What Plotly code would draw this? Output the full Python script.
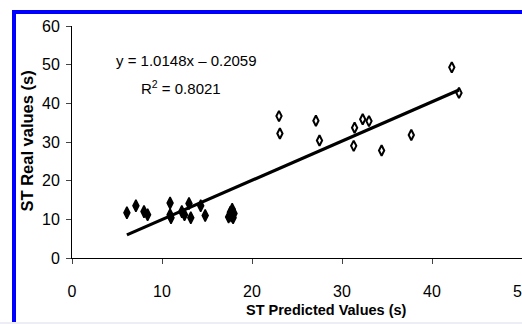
import plotly.graph_objects as go

# Data
filled_x = [6.1, 7.1, 8.0, 8.4, 10.9, 10.9, 11.0, 12.2, 12.5, 13.0, 13.2, 14.3, 14.8, 17.4, 17.6, 17.8, 17.9, 18.0, 17.7]
filled_y = [11.7, 13.5, 12.0, 11.2, 14.2, 11.2, 10.4, 12.0, 11.2, 14.1, 10.4, 13.5, 11.0, 10.6, 11.8, 12.6, 10.4, 11.5, 10.9]
open_x = [23.0, 23.1, 27.1, 27.5, 31.4, 31.3, 32.3, 33.0, 34.4, 37.7, 42.2, 43.0]
open_y = [36.7, 32.2, 35.5, 30.4, 33.7, 29.0, 35.9, 35.4, 27.8, 31.8, 49.3, 42.7]
slope = 1.0148
intercept = -0.2059
eq_text = "y = 1.0148x \u2013 0.2059"
r2_text = "R<sup>2</sup> = 0.8021"
x_ticks = [0, 10, 20, 30, 40, 50]
y_ticks = [0, 10, 20, 30, 40, 50, 60]

all_x = filled_x + open_x
tx = [min(all_x), max(all_x)]
ty = [slope * v + intercept for v in tx]

FONT = "Arial, Liberation Sans, sans-serif"

fig = go.Figure()
fig.add_trace(go.Scatter(x=tx, y=ty, mode="lines", line=dict(color="black", width=3.2),
                         hoverinfo="skip"))
fig.add_trace(go.Scatter(x=filled_x, y=filled_y, mode="markers",
                         marker=dict(symbol="diamond-tall", size=8.5, color="black",
                                     line=dict(color="black", width=1.5))))
fig.add_trace(go.Scatter(x=open_x, y=open_y, mode="markers",
                         marker=dict(symbol="diamond-tall-open", size=7.5, color="black",
                                     line=dict(color="black", width=2))))

L, T, B = 72, 26, 66
PW, PH = 450, 232


def px(x):
    return (x - L) / PW


def py(y):
    return (258 - y) / PH


fig.update_layout(
    width=522, height=324,
    margin=dict(l=L, r=0, t=T, b=B, pad=0, autoexpand=False),
    paper_bgcolor="white", plot_bgcolor="white",
    showlegend=False,
    font=dict(family=FONT, size=16, color="black"),
    xaxis=dict(range=[0, 50], tickvals=x_ticks, showgrid=False, zeroline=False,
               showline=True, linecolor="black", linewidth=1, automargin=False,
               ticks="outside", ticklen=5, tickcolor="#444", tickwidth=1,
               ticklabelstandoff=14, ticklabeloverflow="allow", tickfont=dict(size=16)),
    yaxis=dict(range=[0, 60], tickvals=y_ticks, showgrid=False, zeroline=False,
               showline=True, linecolor="black", linewidth=1, automargin=False,
               ticks="outside", ticklen=5, tickcolor="#444", tickwidth=1,
               ticklabelstandoff=3, tickfont=dict(size=16)),
    shapes=[
        dict(type="rect", xref="paper", yref="paper", x0=px(14), x1=px(600), y0=py(400), y1=py(12),
             line=dict(color="#0000FF", width=4), fillcolor="rgba(0,0,0,0)", layer="below"),
        dict(type="rect", xref="paper", yref="paper", x0=px(-10), x1=px(600), y0=py(340), y1=py(322),
             line=dict(width=0), fillcolor="#EDEDF5", layer="above"),
    ],
    annotations=[
        dict(text=eq_text, x=12.7, y=51.2, xref="x", yref="y", showarrow=False,
             font=dict(size=15, family=FONT), xanchor="center", yanchor="middle"),
        dict(text=r2_text, x=12.1, y=44.0, xref="x", yref="y", showarrow=False,
             font=dict(size=15, family=FONT), xanchor="center", yanchor="middle"),
        dict(text="<b>ST Predicted Values (s)</b>", x=px(326), y=py(310), xref="paper", yref="paper",
             showarrow=False, font=dict(size=14.5, family=FONT), xanchor="center", yanchor="middle"),
        dict(text="<b>ST Real values (s)</b>", x=px(26), y=py(141.5), xref="paper", yref="paper",
             showarrow=False, textangle=-90, font=dict(size=16.5, family=FONT),
             xanchor="center", yanchor="middle"),
    ],
)

fig.write_html("out.html", config={"displayModeBar": False},
               post_script="document.body.style.margin='0px';document.body.style.overflow='hidden';")
